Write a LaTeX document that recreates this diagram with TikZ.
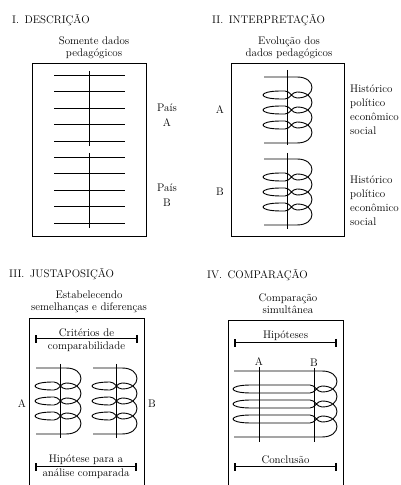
\documentclass[tikz,border=0pt]{standalone}
\usepackage{fontspec}
\usetikzlibrary{arrows.meta,positioning}

\tikzset{
  panel/.style={draw, line width=0.8pt},
  heading/.style={anchor=west, inner sep=0pt, font=\fontsize{11}{13}\selectfont},
  subhead/.style={align=center, inner sep=0pt, font=\fontsize{11}{12}\selectfont},
  sidetext/.style={align=left, anchor=west, inner sep=0pt, font=\fontsize{11}{14}\selectfont},
  letter/.style={inner sep=0pt, font=\fontsize{11}{15}\selectfont},
  datum/.style={line width=0.9pt},
  coilline/.style={line width=0.9pt},
  scalebar/.style={line width=1pt, {Bar[width=8pt,line width=1.6pt]}-{Bar[width=8pt,line width=1.6pt]}},
}

\newcommand{\drawcoil}[3]{%
  \draw[coilline] ({#1+1},#3) -- ({#2-15},#3)
  \foreach \n in {0,1,2}{
    .. controls ({#2+5},{#3-15*\n}) and ({#2+5},{#3-15*\n-21}) .. ({#2-15},{#3-15*\n-21})
    to[out=180,in=0] ({#2-27},{#3-15*\n-14})
    -- ({#1+18},{#3-15*\n-14})
    .. controls ({#1-6},{#3-15*\n-14}) and ({#1-6},{#3-15*\n-22}) .. ({#1+18},{#3-15*\n-22})
    -- ({#2-27},{#3-15*\n-22})
    to[out=0,in=180] ({#2-15},{#3-15*\n-15})
  }
  .. controls ({#2+5},{#3-45}) and ({#2+5},{#3-66}) .. ({#2-15},{#3-66})
  -- ({#1+1},{#3-66});
}

\begin{document}
\begin{tikzpicture}[x=1pt,y=1pt]
\useasboundingbox (0,0) rectangle (401,485);

\node[heading] (descTitle) at (12,465) {I.\enspace DESCRIÇÃO};
\node[subhead] (descSub) at (94,437) {Somente dados\\pedagógicos};
\node[panel, minimum width=114pt, minimum height=173pt] (descBox) at (89,335.5) {};
\foreach \y in {410,393.5,377,360.5,344,328,311.5,295,278.5,262}
  \draw[datum] (54,\y) -- (125,\y);
\draw[datum] (89,414) -- (89,339);
\draw[datum] (89,332) -- (89,257);
\node[letter, align=center] (descA) at (167,370) {País\\A};
\node[letter, align=center] (descB) at (167,290) {País\\B};

\node[heading] (interpTitle) at (212,465) {II.\enspace INTERPRETAÇÃO};
\node[subhead] (interpSub) at (289,437) {Evolução dos\\dados pedagógicos};
\node[panel, minimum width=113pt, minimum height=173pt] (interpBox) at (287.5,335.5) {};
\drawcoil{263}{312}{408}
\draw[datum] (287,415) -- (287,340);
\drawcoil{263}{312}{326}
\draw[datum] (287,332) -- (287,256);
\node[letter] (interpA) at (220,375) {A};
\node[letter] (interpB) at (220,293) {B};
\node[sidetext] (interpNoteA) at (350,375.5) {Histórico\\político\\econômico\\social};
\node[sidetext] (interpNoteB) at (350,284) {Histórico\\político\\econômico\\social};

\node[heading] (juxtTitle) at (9,211) {III.\enspace JUSTAPOSIÇÃO};
\node[subhead] (juxtSub) at (89,183.5) {Estabelecendo\\semelhanças e diferenças};
\draw[panel] (29,-1) |- (144,167) -- (144,-1);
\coordinate (juxtTopL) at (35,146);
\coordinate (juxtTopR) at (138,146);
\coordinate (juxtTopM) at (86.5,146);
\draw[scalebar] (juxtTopL) -- (juxtTopR);
\node[subhead, above=2pt of juxtTopM] (juxtCrit) {Critérios de};
\node[subhead, below=3pt of juxtTopM] (juxtComp) {comparabilidade};
\drawcoil{35}{81}{117}
\draw[datum] (60,121) -- (60,47);
\drawcoil{92}{137}{117}
\draw[datum] (116,121) -- (116,47);
\node[letter] (juxtA) at (22,81) {A};
\node[letter] (juxtB) at (152,81) {B};
\coordinate (juxtBotL) at (35,18);
\coordinate (juxtBotR) at (137,18);
\coordinate (juxtBotM) at (86,18);
\draw[scalebar] (juxtBotL) -- (juxtBotR);
\node[subhead, above=2pt of juxtBotM] (juxtHyp) {Hipótese para a};
\node[subhead, below=2pt of juxtBotM] (juxtAnal) {análise comparada};

\node[heading] (compTitle) at (207,210) {IV.\enspace COMPARAÇÃO};
\node[subhead] (compSub) at (288,181.5) {Comparação\\simultânea};
\draw[panel] (228,-1) |- (343,165) -- (343,-1);
\coordinate (compTopL) at (234,142);
\coordinate (compTopR) at (337,142);
\coordinate (compTopM) at (285.5,142);
\draw[scalebar] (compTopL) -- (compTopR);
\node[subhead, above=2pt of compTopM] (compHyp) {Hipóteses};
\drawcoil{233}{337}{114}
\coordinate (compAtop) at (259,118);
\coordinate (compAbot) at (259,43);
\coordinate (compBtop) at (314,117);
\coordinate (compBbot) at (314,43);
\draw[datum] (compAtop) -- (compAbot);
\draw[datum] (compBtop) -- (compBbot);
\node[letter, above=1pt of compAtop] (compA) {A};
\node[letter, above=1pt of compBtop] (compB) {B};
\coordinate (compBotL) at (234,18);
\coordinate (compBotR) at (337,18);
\coordinate (compBotM) at (285.5,18);
\draw[scalebar] (compBotL) -- (compBotR);
\node[subhead, above=3pt of compBotM] (compConc) {Conclusão};
\end{tikzpicture}
\end{document}
